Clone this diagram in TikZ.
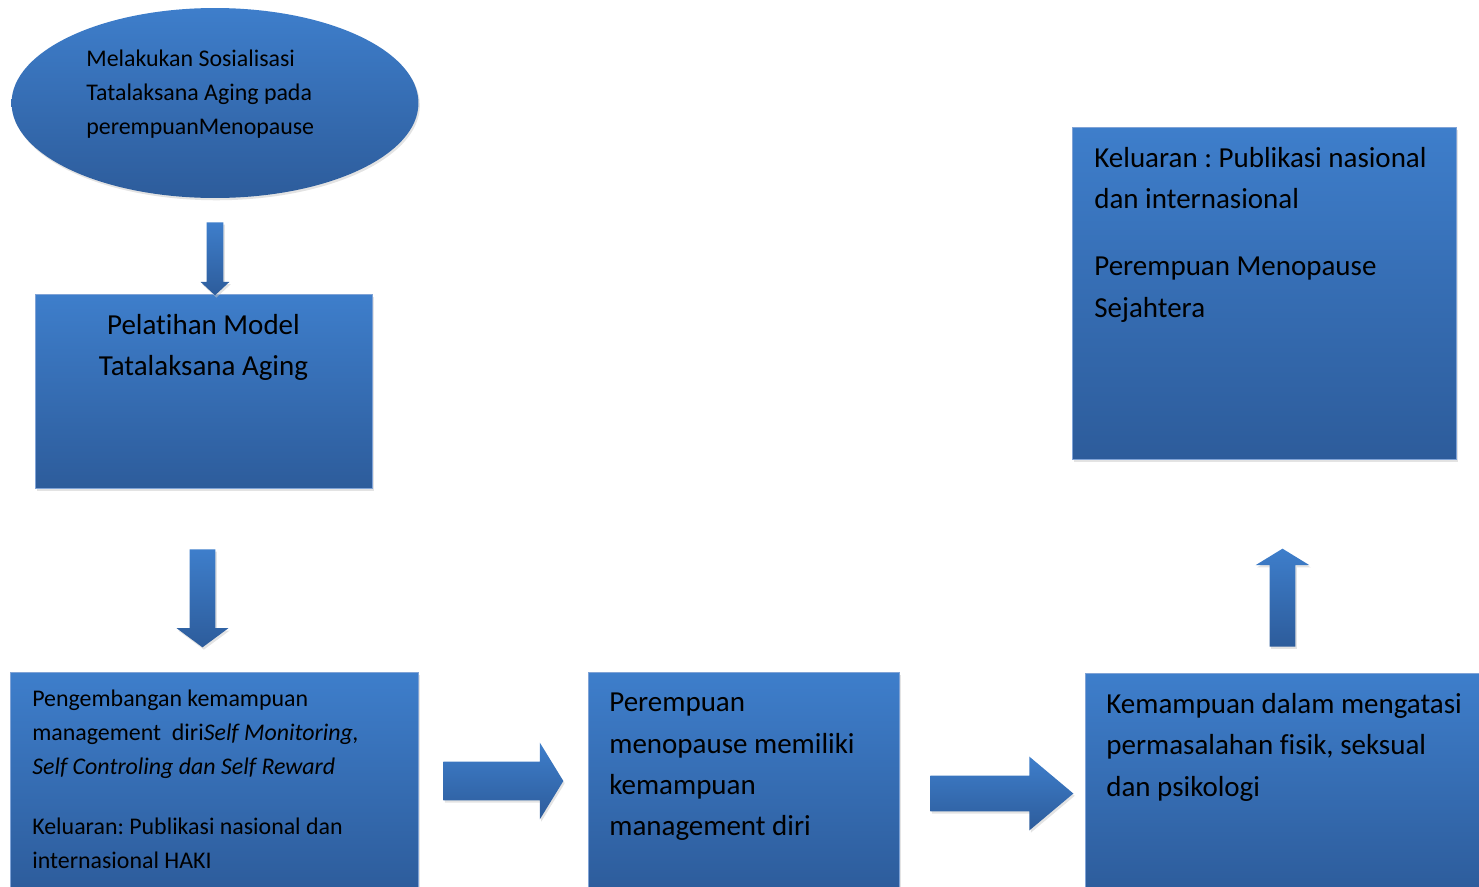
\documentclass[tikz,border=0pt]{standalone}
\usepackage{fontspec}
\setmainfont{Carlito}[Ligatures=NoCommon]
\usetikzlibrary{shapes.geometric,shapes.arrows,shadows}

\definecolor{birumuda}{RGB}{62,126,203}
\definecolor{birutua}{RGB}{45,92,155}
\definecolor{garistepi}{RGB}{128,163,214}

\begin{document}
\frenchspacing
\begin{tikzpicture}[x=0.02cm,y=-0.02cm,
    isi/.style={top color=birumuda,bottom color=birutua},
    bayang/.style={drop shadow={shadow xshift=0.8pt,shadow yshift=-1.3pt,fill=black!22}},
    blok/.style={rectangle,anchor=north west,isi,bayang,draw=garistepi,line width=0.5pt,inner sep=0pt},
    elips/.style={ellipse,isi,bayang,draw=none,inner sep=0pt},
    panah/.style={single arrow,anchor=tail,isi,bayang,draw=none},
    teks/.style={anchor=north west,inner sep=0pt,align=left,text=black},
    besar/.style={font=\fontsize{16.5}{23.5}\selectfont},
    kecil/.style={font=\fontsize{13.6}{19.3}\selectfont}]
  \useasboundingbox (0,0) rectangle (1479,886);

  % bentuk
  \node[elips,minimum width=8.14cm,minimum height=3.8cm] (sos) at (215,103) {};
  \node[blok,minimum width=6.74cm,minimum height=3.88cm] (latih) at (35,294) {};
  \node[blok,minimum width=8.16cm,minimum height=4.4cm] (kembang) at (10,672) {};
  \node[blok,minimum width=6.22cm,minimum height=4.4cm] (mampu) at (588,672) {};
  \node[blok,minimum width=8cm,minimum height=4.4cm] (atasi) at (1085,673) {};
  \node[blok,minimum width=7.68cm,minimum height=6.64cm] (luaran) at (1072,127) {};

  % panah blok
  \node[panah,shape border rotate=270,inner sep=0.16cm,minimum width=0.56cm,minimum height=1.46cm,
        single arrow head extend=0.12cm,single arrow tip angle=94] (p1) at (215,222) {};
  \node[panah,shape border rotate=270,inner sep=0.25cm,minimum width=1.02cm,minimum height=1.96cm,
        single arrow head extend=0.26cm,single arrow tip angle=107] (p2) at (202.5,549) {};
  \node[panah,inner sep=0.38cm,minimum width=1.52cm,minimum height=2.4cm,
        single arrow head extend=0.38cm,single arrow tip angle=117] (p3) at (443,781) {};
  \node[panah,inner sep=0.35cm,minimum width=1.46cm,minimum height=2.86cm,
        single arrow head extend=0.38cm,single arrow tip angle=80] (p4) at (930,793.5) {};
  \node[panah,shape border rotate=90,inner sep=0.25cm,minimum width=1.06cm,minimum height=1.96cm,
        single arrow head extend=0.28cm,single arrow tip angle=117] (p5) at (1282.5,647) {};

  % teks
  \node[teks,kecil] (sos-t) at (86,50) {Melakukan Sosialisasi\\Tatalaksana Aging pada\\perempuanMenopause};
  \node[teks,besar,anchor=north,align=center] (latih-t) at (203.5,314) {Pelatihan Model\\Tatalaksana Aging};
  \node[teks,kecil] (kembang-t) at (32,690) {Pengembangan kemampuan\\management\ \ diri\textit{Self Monitoring,}\\\textit{Self Controling dan Self Reward}\\[14.7pt]Keluaran: Publikasi nasional dan\\internasional HAKI};
  \node[teks,besar] (mampu-t) at (609,693) {Perempuan\\menopause memiliki\\kemampuan\\management diri};
  \node[teks,besar] (atasi-t) at (1106,693) {Kemampuan dalam mengatasi\\permasalahan fisik, seksual\\dan psikologi};
  \node[teks,besar] (luaran-t) at (1094,147) {Keluaran : Publikasi nasional\\dan internasional\\[14.7pt]Perempuan Menopause\\Sejahtera};
\end{tikzpicture}
\end{document}
